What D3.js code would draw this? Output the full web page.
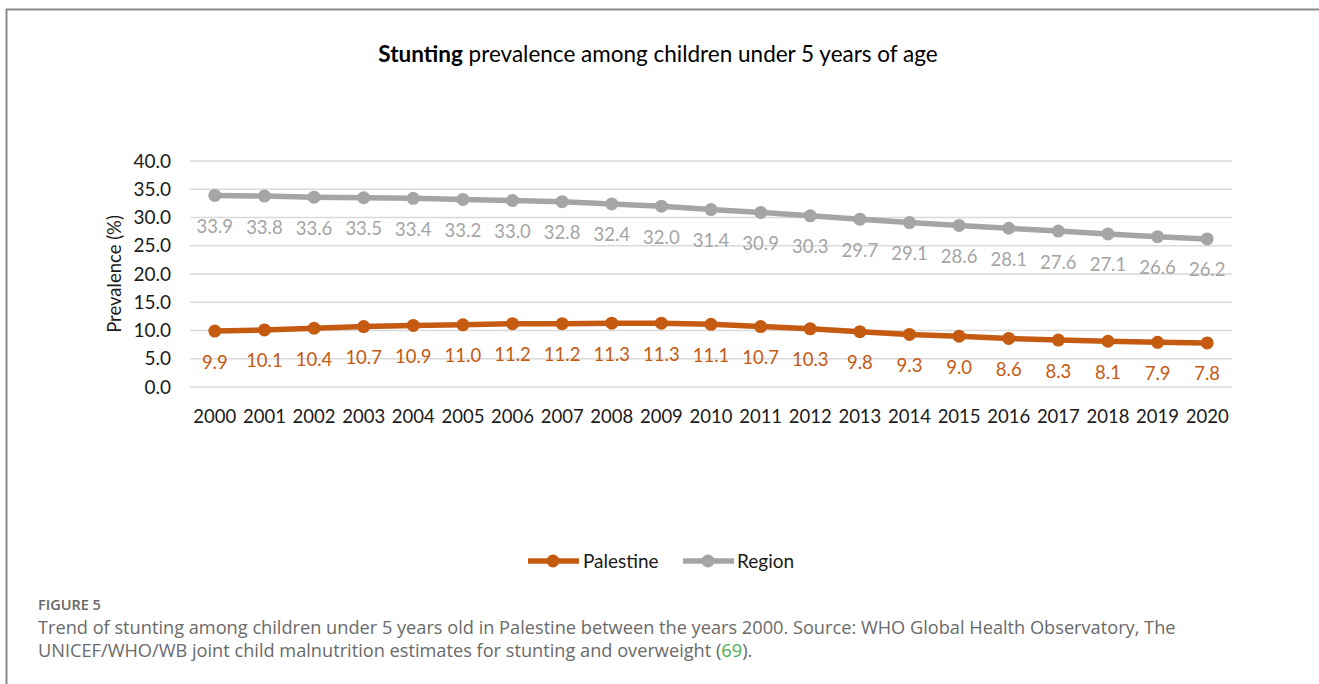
<!DOCTYPE html>
<html><head><meta charset="utf-8">
<script src="https://cdn.jsdelivr.net/npm/d3@7"></script>
<style>
html,body{margin:0;padding:0;background:#fff;}
svg{display:block;}
</style></head>
<body>
<script>
const years = ["2000","2001","2002","2003","2004","2005","2006","2007","2008","2009","2010","2011","2012","2013","2014","2015","2016","2017","2018","2019","2020"];
const palestine = [9.9,10.1,10.4,10.7,10.9,11.0,11.2,11.2,11.3,11.3,11.1,10.7,10.3,9.8,9.3,9.0,8.6,8.3,8.1,7.9,7.8];
const region = [33.9,33.8,33.6,33.5,33.4,33.2,33.0,32.8,32.4,32.0,31.4,30.9,30.3,29.7,29.1,28.6,28.1,27.6,27.1,26.6,26.2];
const yTicks = [0,5,10,15,20,25,30,35,40];
const seriesNames = ["Palestine","Region"];
const seriesColors = ["#C55A11","#A5A5A5"];

const W = 1319, H = 684;
const svg = d3.select("body").append("svg").attr("width", W).attr("height", H);
const font = "Lato, 'Open Sans', sans-serif";

// frame
svg.append("line").attr("x1",6.5).attr("x2",6.5).attr("y1",9).attr("y2",H).attr("stroke","#8a8a8a").attr("stroke-width",2);
svg.append("line").attr("x1",6).attr("x2",W).attr("y1",9.5).attr("y2",9.5).attr("stroke","#8a8a8a").attr("stroke-width",2);

const x = d3.scaleBand().domain(years).range([190,1232]);
const y = d3.scaleLinear().domain([0,40]).range([387,161]);

// title
const title = svg.append("text").attr("x",658).attr("y",62).attr("text-anchor","middle")
  .attr("font-family",font).attr("font-size",22.5).attr("fill","#000");
title.append("tspan").attr("font-weight","bold").text("Stunting");
title.append("tspan").text(" prevalence among children under 5 years of age");

// grid
svg.append("g").selectAll("line").data(yTicks).join("line")
  .attr("x1",190).attr("x2",1232).attr("y1",d=>y(d)).attr("y2",d=>y(d))
  .attr("stroke","#D9D9D9").attr("stroke-width",1.5);

// y axis
const yAxis = svg.append("g").attr("transform","translate(190,0)")
  .call(d3.axisLeft(y).tickValues(yTicks).tickFormat(d3.format(".1f")).tickSize(0).tickPadding(19));
yAxis.select(".domain").remove();
yAxis.selectAll("text").attr("font-family",font).attr("font-size",19).attr("fill","#1a1a1a");

// x axis
const xAxis = svg.append("g").attr("transform","translate(0,404)")
  .call(d3.axisBottom(x).tickSize(0).tickPadding(0));
xAxis.select(".domain").remove();
xAxis.selectAll("text").attr("font-family",font).attr("font-size",18.5).attr("fill","#1a1a1a").attr("dy","1em");

// y title
svg.append("text").attr("transform","translate(121,274) rotate(-90)").attr("text-anchor","middle")
  .attr("font-family",font).attr("font-size",18.5).attr("fill","#1a1a1a").text("Prevalence (%)");

const line = d3.line().x((d,i)=>x(years[i])+x.bandwidth()/2).y(d=>y(d));
const all = [palestine, region];
all.forEach((vals,k)=>{
  const col = seriesColors[k];
  svg.append("path").datum(vals).attr("d",line).attr("fill","none").attr("stroke",col)
    .attr("stroke-width",5.5).attr("stroke-linejoin","round");
  svg.append("g").selectAll("circle").data(vals).join("circle")
    .attr("cx",(d,i)=>x(years[i])+x.bandwidth()/2).attr("cy",d=>y(d)).attr("r",6.5).attr("fill",col);
  svg.append("g").selectAll("text").data(vals).join("text")
    .attr("x",(d,i)=>x(years[i])+x.bandwidth()/2).attr("y",d=>y(d)+37.5)
    .attr("text-anchor","middle").attr("font-family",font).attr("font-size",18.5).attr("fill",col)
    .text(d=>d3.format(".1f")(d));
});

// legend
const legItems = [{x0:528,tx:583},{x0:683,tx:737}];
legItems.forEach((L,k)=>{
  const g = svg.append("g");
  g.append("line").attr("x1",L.x0).attr("x2",L.x0+51).attr("y1",561).attr("y2",561)
    .attr("stroke",seriesColors[k]).attr("stroke-width",5.5);
  g.append("circle").attr("cx",L.x0+25).attr("cy",561).attr("r",6.5).attr("fill",seriesColors[k]);
  g.append("text").attr("x",L.tx).attr("y",567.5).attr("font-family",font).attr("font-size",19)
    .attr("fill","#1a1a1a").text(seriesNames[k]);
});

// caption
const capFont = "'Open Sans', 'Noto Sans', sans-serif";
svg.append("text").attr("x",38).attr("y",610).attr("font-family",capFont).attr("font-size",14.5)
  .attr("font-weight","600").attr("fill","#666").text("FIGURE 5");
svg.append("text").attr("x",38).attr("y",634).attr("font-family",capFont).attr("font-size",18.2)
  .attr("fill","#6a6a6a")
  .text("Trend of stunting among children under 5 years old in Palestine between the years 2000. Source: WHO Global Health Observatory, The");
const cap2 = svg.append("text").attr("x",38).attr("y",657).attr("font-family",capFont).attr("font-size",18.2)
  .attr("fill","#6a6a6a");
cap2.append("tspan").text("UNICEF/WHO/WB joint child malnutrition estimates for stunting and overweight (");
cap2.append("tspan").attr("fill","#4caf50").text("69");
cap2.append("tspan").text(").");
</script>
</body></html>
